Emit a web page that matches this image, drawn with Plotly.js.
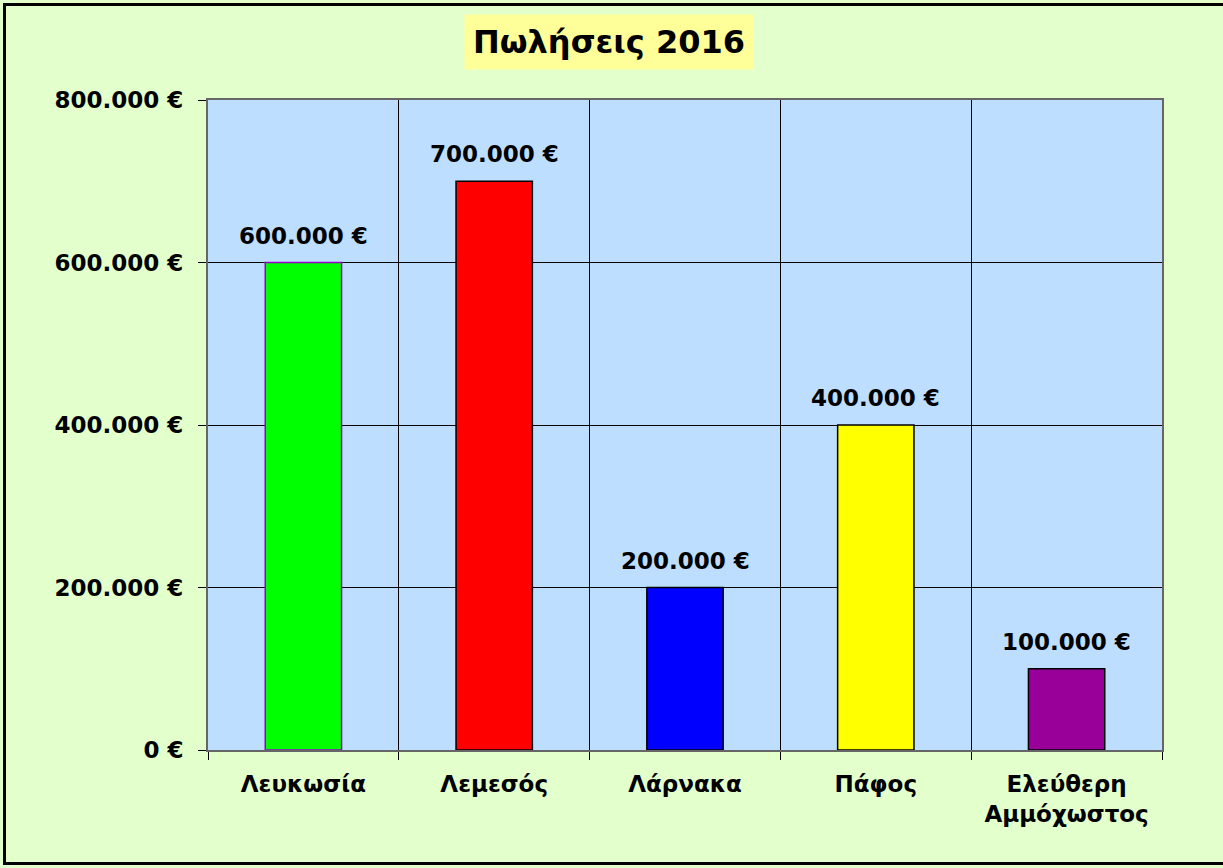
<!DOCTYPE html>
<html>
<head>
<meta charset="utf-8">
<script src="https://cdn.plot.ly/plotly-3.0.1.min.js"></script>
<style>
  html, body { margin: 0; padding: 0; background: #E3FFCC; }
  #wrap { position: relative; width: 1223px; height: 868px; overflow: hidden; }
  #chart { width: 1223px; height: 868px; }
  #frame { position: absolute; left: 3px; top: 3px; width: 1240px; height: 862px; border: 3px solid #000; pointer-events: none; box-sizing: border-box; }
</style>
</head>
<body>
<div id="wrap">
  <div id="chart"></div>
  <div id="frame"></div>
</div>
<script>
const categories = ["Λευκωσία", "Λεμεσός", "Λάρνακα", "Πάφος", "Ελεύθερη<br>Αμμόχωστος"];
const sales = [600000, 700000, 200000, 400000, 100000];
const barColors = ["#00FF00", "#FF0000", "#0000FF", "#FFFF00", "#990099"];
const barOutlines = ["#9900CC", "#000000", "#000000", "#000000", "#000000"];
const titleText = "Πωλήσεις 2016";

const FONT = "DejaVu Sans, Verdana, sans-serif";
const fmt = v => v.toLocaleString("de-DE") + " €";

const W = 1223, H = 868;
const M = { l: 208, r: 61, t: 100, b: 118 };
const titleX = (W / 2 - 3 - M.l) / (W - M.l - M.r);

const trace = {
  type: "bar",
  x: categories,
  y: sales,
  marker: { color: barColors, line: { color: barOutlines, width: 1.5 } },
  hoverinfo: "skip"
};

const valueLabels = categories.map((c, i) => ({
  x: c, y: sales[i], xref: "x", yref: "y",
  text: fmt(sales[i]),
  showarrow: false, xanchor: "center", yanchor: "bottom", yshift: 12,
  font: { family: FONT, size: 23, color: "#000", weight: "bold" }
}));

const layout = {
  width: W,
  height: H,
  margin: M,
  paper_bgcolor: "#E3FFCC",
  plot_bgcolor: "#BDDEFF",
  separators: ",.",
  bargap: 0.6,
  showlegend: false,
  font: { family: FONT, size: 23, color: "#000", weight: "bold" },
  xaxis: {
    type: "category",
    tickson: "boundaries",
    showgrid: true,
    gridcolor: "#000",
    gridwidth: 1,
    ticks: "outside",
    ticklen: 8,
    tickcolor: "#000",
    showline: true,
    linecolor: "#666",
    linewidth: 2,
    mirror: true,
    tickfont: { family: FONT, size: 23, color: "#000", weight: "bold" },
    ticklabelstandoff: 12
  },
  yaxis: {
    range: [0, 800000],
    dtick: 200000,
    tickformat: ",.0f",
    ticksuffix: " €",
    showgrid: true,
    gridcolor: "#000",
    gridwidth: 1,
    ticks: "outside",
    ticklen: 8,
    tickcolor: "#000",
    showline: true,
    linecolor: "#666",
    linewidth: 2,
    mirror: true,
    zeroline: false,
    tickfont: { family: FONT, size: 23, color: "#000", weight: "bold" },
    ticklabelstandoff: 10
  },
  annotations: [{
    text: titleText,
    xref: "paper", yref: "paper",
    x: titleX, y: 1, yshift: 58,
    xanchor: "center", yanchor: "middle",
    showarrow: false,
    bgcolor: "#FFFF99",
    borderpad: 8,
    font: { family: FONT, size: 32, color: "#000", weight: "bold" }
  }].concat(valueLabels)
};

Plotly.newPlot("chart", [trace], layout, { displayModeBar: false, staticPlot: true });
</script>
</body>
</html>
